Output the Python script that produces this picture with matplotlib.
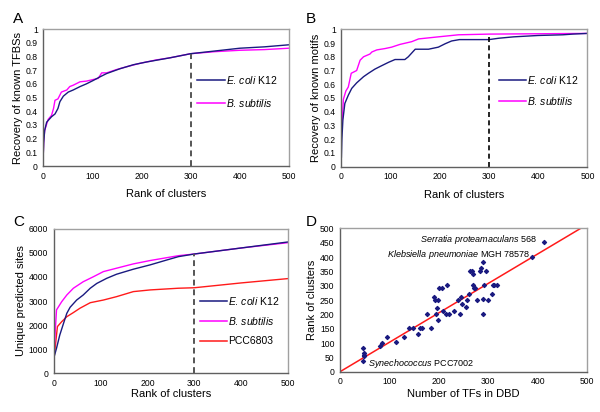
import matplotlib
matplotlib.use("Agg")
import matplotlib.pyplot as plt
import numpy as np

plt.rcParams["font.family"] = ["Liberation Sans", "DejaVu Sans"]
plt.rcParams["mathtext.fontset"] = "custom"
plt.rcParams["mathtext.rm"] = "Liberation Sans"
plt.rcParams["mathtext.it"] = "Liberation Sans:italic"

# -----------------------------
# Data
# -----------------------------
# Panel A: recovery of known TFBSs
a_ecoli_x = [0, 1, 3, 7, 12, 17, 24, 30, 34, 41, 51, 61, 75, 88, 102, 115, 129, 156, 184, 211, 258, 300, 350, 400, 450, 500]
a_ecoli_y = [0.07, 0.17, 0.26, 0.32, 0.34, 0.36, 0.38, 0.42, 0.47, 0.51, 0.54, 0.555, 0.58, 0.60, 0.625, 0.65, 0.675, 0.71, 0.74, 0.76, 0.79, 0.82, 0.84, 0.86, 0.87, 0.885]
a_bsub_x = [0, 1, 3, 10, 17, 21, 24, 30, 37, 48, 54, 61, 75, 88, 112, 119, 129, 150, 170, 197, 231, 258, 300, 350, 400, 450, 500]
a_bsub_y = [0.07, 0.18, 0.26, 0.34, 0.37, 0.42, 0.48, 0.49, 0.54, 0.555, 0.58, 0.59, 0.615, 0.62, 0.64, 0.68, 0.68, 0.705, 0.725, 0.75, 0.775, 0.79, 0.82, 0.835, 0.845, 0.85, 0.86]

# Panel B: recovery of known motifs
b_ecoli_x = [0, 1, 3, 7, 14, 21, 31, 45, 55, 68, 79, 96, 109, 129, 136, 150, 177, 197, 211, 224, 240, 300, 320, 350, 400, 450, 470, 500]
b_ecoli_y = [0.07, 0.2, 0.34, 0.46, 0.52, 0.57, 0.61, 0.655, 0.68, 0.71, 0.73, 0.76, 0.78, 0.78, 0.80, 0.855, 0.855, 0.87, 0.895, 0.915, 0.925, 0.925, 0.935, 0.945, 0.955, 0.96, 0.965, 0.97]
b_bsub_x = [0, 2, 4, 9, 14, 20, 31, 38, 45, 58, 62, 72, 89, 102, 119, 143, 157, 197, 238, 300, 500]
b_bsub_y = [0.27, 0.35, 0.49, 0.55, 0.58, 0.68, 0.70, 0.775, 0.80, 0.82, 0.835, 0.85, 0.86, 0.87, 0.89, 0.91, 0.93, 0.945, 0.96, 0.965, 0.97]

# Panel C: unique predicted sites
c_ecoli_x = [0, 1, 6, 13, 21, 28, 35, 49, 63, 78, 92, 113, 134, 170, 206, 241, 266, 300, 400, 500]
c_ecoli_y = [500, 690, 1040, 1590, 2075, 2490, 2740, 3040, 3250, 3530, 3730, 3940, 4110, 4320, 4500, 4700, 4840, 4950, 5200, 5450]
c_bsub_x = [0, 1, 6, 17, 28, 42, 63, 85, 106, 134, 170, 206, 266, 300, 400, 500]
c_bsub_y = [700, 970, 2630, 2970, 3250, 3530, 3800, 4010, 4220, 4360, 4540, 4680, 4880, 4950, 5200, 5420]
c_pcc_x = [0, 1, 8, 17, 28, 42, 56, 78, 106, 134, 170, 206, 266, 300, 400, 500]
c_pcc_y = [70, 700, 1940, 2140, 2350, 2520, 2700, 2930, 3040, 3180, 3390, 3460, 3530, 3550, 3750, 3930]

# Panel D: number of TFs vs rank of clusters
d_tfs = [46, 48, 49, 49, 47, 80, 84, 96, 113, 130, 139, 148, 158, 161, 165, 175, 184, 191, 193,
         196, 194, 198, 198, 200, 206, 209, 216, 215, 221, 230, 238, 242, 245, 247, 255, 256, 260,
         262, 266, 269, 269, 271, 274, 278, 283, 285, 289, 289, 289, 291, 295, 299, 308, 309, 312,
         318, 389, 413]
d_rank = [81, 64, 59, 54, 37, 91, 101, 122, 102, 122, 152, 152, 132, 152, 152, 200, 152, 262, 250,
          221, 200, 250, 181, 291, 291, 212, 301, 200, 200, 212, 250, 200, 262, 236, 225, 250, 271,
          352, 352, 340, 301, 292, 292, 250, 352, 362, 381, 200, 255, 301, 352, 250, 271, 301, 301,
          301, 400, 452]
d_fit_slope = 1.027

NAVY = "#1a1a80"
MAGENTA = "#ff00ff"
RED = "#ff1a1a"
FRAME = "#a0a0a0"
AXIS = "#606060"

fig = plt.figure(figsize=(6.0, 4.12), dpi=100)


def style_axes(ax):
    for side, s in ax.spines.items():
        s.set_color(AXIS if side in ("left", "bottom") else FRAME)
        s.set_linewidth(1.0)
    ax.tick_params(axis="both", labelsize=6.2, length=0, pad=4)


def add_legend(ax, colors, labels, x0, x1, ys):
    for c, lab, y in zip(colors, labels, ys):
        ax.plot([x0, x1], [y, y], color=c, lw=1.1, transform=ax.transAxes)
        ax.text(x1 + 0.005, y, lab, transform=ax.transAxes, va="center", ha="left", fontsize=7.5)


ecoli_lab = r"$\it{E.\,coli}$ K12"
bsub_lab = r"$\it{B.\,subtilis}$"
frac_labels = ["0", "0.1", "0.2", "0.3", "0.4", "0.5", "0.6", "0.7", "0.8", "0.9", "1"]

# ---- Panel A
axA = fig.add_axes([0.072, 0.597, 0.4095, 0.3325])
axA.plot(a_bsub_x, a_bsub_y, color=MAGENTA, lw=1.0)
axA.plot(a_ecoli_x, a_ecoli_y, color=NAVY, lw=1.0)
axA.plot([300, 300], [0, 0.82], color="#555555", ls=(0, (3, 2)), lw=1.4)
axA.set_xlim(0, 500)
axA.set_ylim(0, 1)
axA.set_xticks(np.arange(0, 501, 100))
axA.set_yticks(np.arange(0, 1.01, 0.1))
axA.set_yticklabels(frac_labels)
style_axes(axA)
axA.set_xlabel("Rank of clusters", fontsize=8, labelpad=6)
axA.set_ylabel("Recovery of known TFBSs", fontsize=8, labelpad=2)
add_legend(axA, [NAVY, MAGENTA], [ecoli_lab, bsub_lab], 0.628, 0.74, [0.625, 0.46])
fig.text(0.022, 0.955, "A", fontsize=11, va="center")

# ---- Panel B
axB = fig.add_axes([0.569, 0.5954, 0.41, 0.3335])
axB.plot(b_bsub_x, b_bsub_y, color=MAGENTA, lw=1.0)
axB.plot(b_ecoli_x, b_ecoli_y, color=NAVY, lw=1.0)
axB.plot([300, 300], [0, 0.965], color="black", ls=(0, (3, 2)), lw=1.2)
axB.set_xlim(0, 500)
axB.set_ylim(0, 1)
axB.set_xticks(np.arange(0, 501, 100))
axB.set_yticks(np.arange(0, 1.01, 0.1))
axB.set_yticklabels(frac_labels)
style_axes(axB)
axB.set_xlabel("Rank of clusters", fontsize=8, labelpad=6)
axB.set_ylabel("Recovery of known motifs", fontsize=8, labelpad=2)
add_legend(axB, [NAVY, MAGENTA], [ecoli_lab, bsub_lab], 0.64, 0.75, [0.63, 0.48])
fig.text(0.51, 0.955, "B", fontsize=11, va="center")

# ---- Panel C
axC = fig.add_axes([0.0895, 0.0939, 0.3905, 0.351])
axC.plot(c_pcc_x, c_pcc_y, color=RED, lw=1.0)
axC.plot(c_bsub_x, c_bsub_y, color=MAGENTA, lw=1.0)
axC.plot(c_ecoli_x, c_ecoli_y, color=NAVY, lw=1.0)
axC.plot([300, 300], [0, 4950], color="#555555", ls=(0, (3, 2)), lw=1.4)
axC.set_xlim(0, 500)
axC.set_ylim(0, 6000)
axC.set_xticks(np.arange(0, 501, 100))
axC.set_yticks(np.arange(0, 6001, 1000))
style_axes(axC)
axC.set_xlabel("Rank of clusters", fontsize=8, labelpad=1)
axC.set_ylabel("Unique predicted sites", fontsize=8, labelpad=2)
add_legend(axC, [NAVY, MAGENTA, RED], [ecoli_lab, bsub_lab, "PCC6803"], 0.623, 0.74, [0.5, 0.36, 0.22])
fig.text(0.022, 0.462, "C", fontsize=11, va="center")

# ---- Panel D
axD = fig.add_axes([0.5667, 0.0978, 0.412, 0.348])
fit_x = np.array([0, 500])
axD.plot(fit_x, d_fit_slope * fit_x, color=RED, lw=1.1)
axD.scatter(d_tfs, d_rank, marker="D", s=4, color=NAVY, zorder=3)
axD.set_xlim(0, 500)
axD.set_ylim(0, 500)
axD.set_xticks(np.arange(0, 501, 100))
axD.set_yticks(np.arange(0, 501, 50))
style_axes(axD)
axD.set_xlabel("Number of TFs in DBD", fontsize=8, labelpad=2)
axD.set_ylabel("Rank of clusters", fontsize=8, labelpad=2)
axD.text(398, 462, r"$\it{Serratia\ proteamaculans}$ 568", fontsize=6.5, ha="right", va="center")
axD.text(385, 408, r"$\it{Klebsiella\ pneumoniae}$ MGH 78578", fontsize=6.5, ha="right", va="center")
axD.text(57, 28, r"$\it{Synechococcus}$ PCC7002", fontsize=6.5, ha="left", va="center")
fig.text(0.51, 0.462, "D", fontsize=11, va="center")

fig.savefig("out.png", dpi=100)
